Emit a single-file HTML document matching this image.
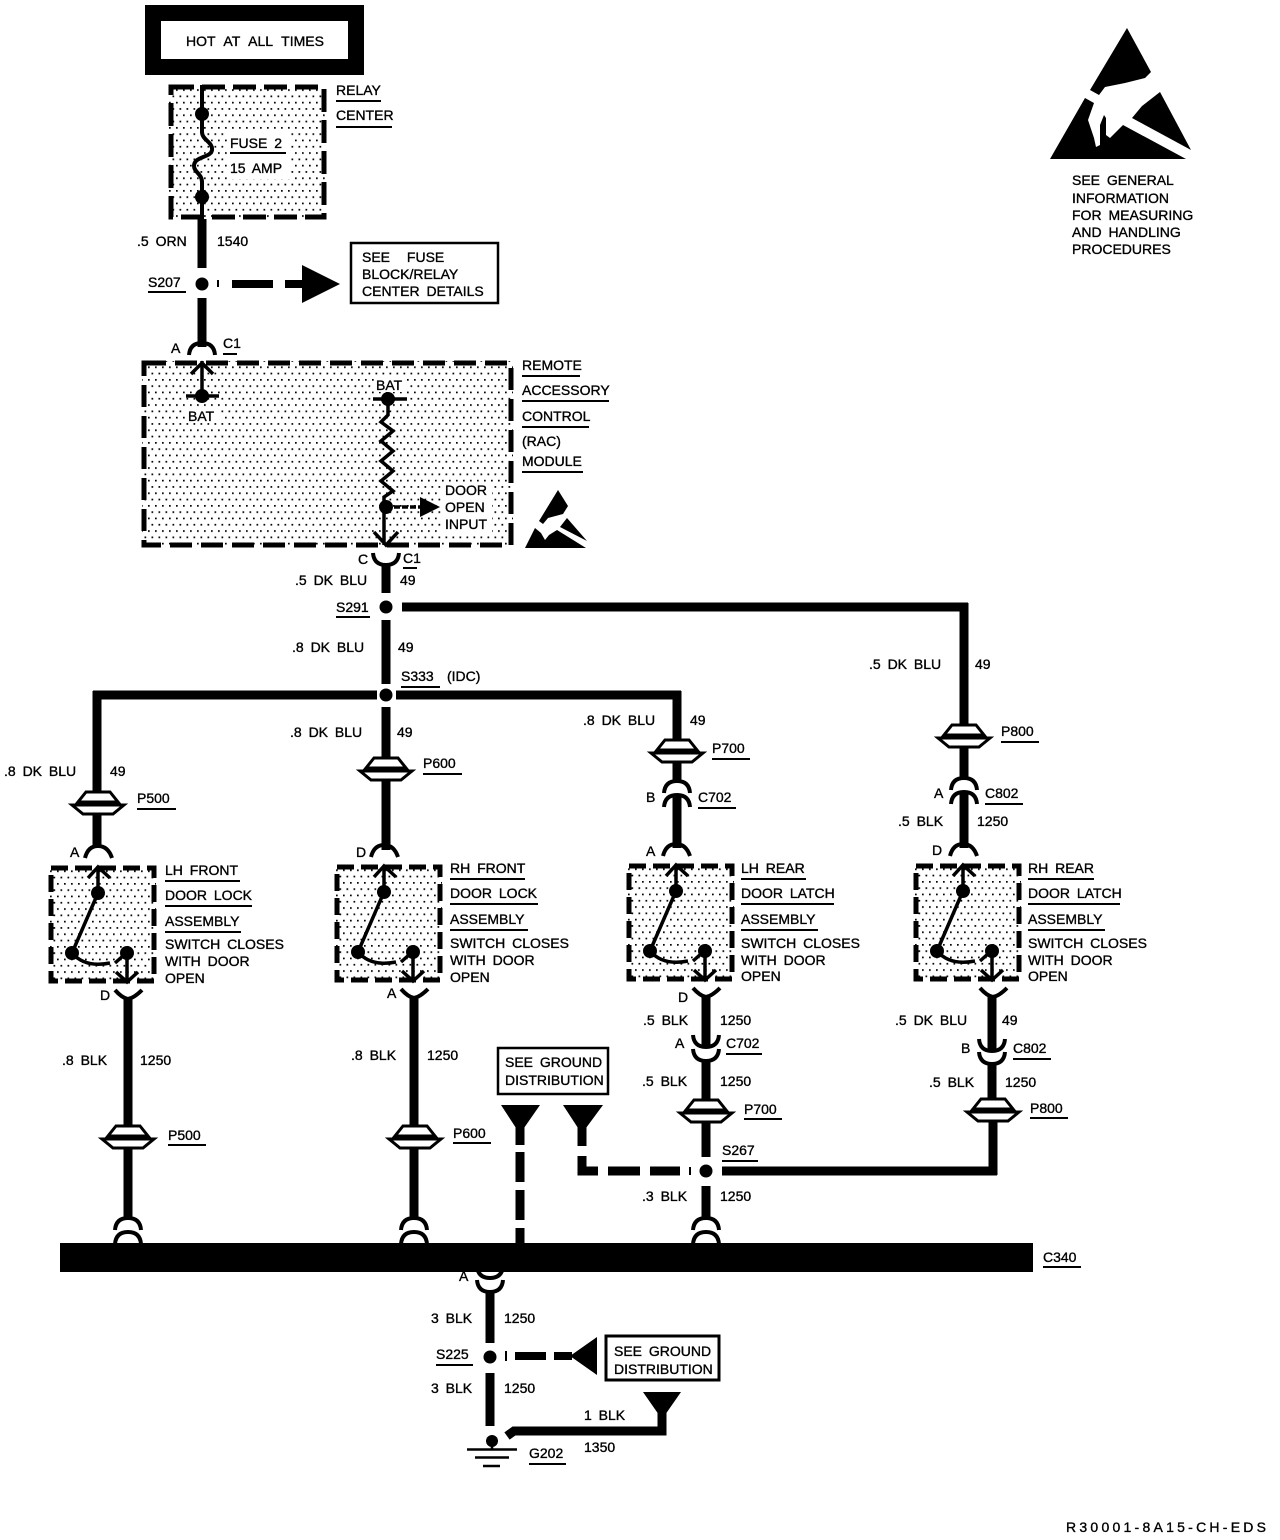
<!DOCTYPE html>
<html><head><meta charset="utf-8"><style>
html,body{margin:0;padding:0;background:#fff}
svg{display:block}
text{font-family:"Liberation Sans",sans-serif;font-size:14px;fill:#000;stroke:#000;stroke-width:.35px;letter-spacing:0;word-spacing:3px}
</style></head><body>
<svg width="1280" height="1540" viewBox="0 0 1280 1540" xmlns="http://www.w3.org/2000/svg">
<defs>
<pattern id="d" width="7" height="12.6" patternUnits="userSpaceOnUse"><rect x="1" y="1" width="1.7" height="1.7"/><rect x="4.5" y="7.3" width="1.7" height="1.7"/></pattern>
<g id="pc"><path d="M-12-12H12L20-2H-20Z" fill="#fff" stroke="#000" stroke-width="3"/><path d="M-26 1H26L15 10H-15Z" fill="#fff" stroke="#000" stroke-width="3"/><path d="M-20-1H20" stroke="#000" stroke-width="2"/></g>
<g id="as">
<rect x="49" y="866" width="107" height="117" fill="url(#d)"/>
<rect x="51" y="868" width="103" height="113" fill="none" stroke="#000" stroke-width="5" stroke-dasharray="17 7"/>
<g fill="none" stroke="#000" stroke-width="3.5">
<path d="M98 866V893M88 878L98 867L110 878"/>
<path d="M98 893L72 953M72 953Q85 968 110 963M115 963L124 955"/>
<path d="M127 953V982M116 972L127 982L138 972"/>
<path d="M85 858Q88 846 98 846Q108 846 112 858" stroke-width="4"/>
<path d="M115 990Q122 998 128 999Q134 998 142 990" stroke-width="4"/>
</g>
<circle cx="98" cy="893" r="7"/><circle cx="72" cy="953" r="7"/><circle cx="127" cy="953" r="7"/>
</g>
<g id="dn"><path d="M-13 9Q-12-3 0-3Q12-3 13 9" fill="none" stroke="#000" stroke-width="4"/></g>
<g id="up"><path d="M-13-9Q-12 3 0 3Q12 3 13-9" fill="none" stroke="#000" stroke-width="4"/></g>
</defs>

<!-- HOT box -->
<rect x="153" y="13" width="203" height="54" fill="#fff" stroke="#000" stroke-width="16"/>

<!-- Relay center -->
<rect x="169" y="85" width="157" height="134" fill="url(#d)"/>
<rect x="228" y="133" width="62" height="46" fill="#fff"/>
<rect x="171" y="87" width="153" height="130" fill="none" stroke="#000" stroke-width="5" stroke-dasharray="23 8"/>
<path d="M202 85V132C202 140 213 142 212 150C211 158 194 156 194 166C194 172 202 174 202 182V219" fill="none" stroke="#000" stroke-width="4"/>
<circle cx="202" cy="114" r="7"/><circle cx="202" cy="197" r="7"/>

<!-- RAC module -->
<rect x="142" y="361" width="371" height="186" fill="url(#d)"/>
<rect x="186" y="409" width="34" height="14" fill="#fff"/><rect x="374" y="378" width="32" height="14" fill="#fff"/><rect x="442" y="483" width="50" height="50" fill="#fff"/>
<rect x="144" y="363" width="367" height="182" fill="none" stroke="#000" stroke-width="5" stroke-dasharray="22 9"/>
<g fill="none" stroke="#000" stroke-width="3.5">
<path d="M202 361V397M191 374L202 363L213 374M186 396H219"/>
<path d="M373 399H407M388 399V415L381 422L393 431L381 441L393 451L381 461L393 471L381 481L393 491L384 497V545M374 532L386 545L398 532"/>
<path d="M386 507H420" stroke-dasharray="6 2"/>
</g>
<path d="M420 497L440 507L420 517Z"/>
<circle cx="202" cy="396" r="7"/><circle cx="388" cy="399" r="7"/><circle cx="386" cy="507" r="7"/>

<!-- Small ESD -->
<path d="M558 490L568 506L563 514L548 518L543 524L539 521ZM535 528L541 533L545 540L549 535L557 530L586 548H525ZM567 518L587 541L560 527Z"/>

<!-- Assemblies -->
<use href="#as"/>
<use href="#as" x="286" y="-1"/>
<use href="#as" x="578" y="-2"/>
<use href="#as" x="865" y="-2"/>

<!-- Thick wires -->
<g fill="none" stroke="#000" stroke-width="9">
<path d="M202 219V268M202 298V347"/>
<path d="M386 565V593M386 620V684M386 707V850"/>
<path d="M402 607H968M964 603V779M964 793V848"/>
<path d="M377 695H93M97 691V848"/>
<path d="M396 695H681M677 691V782M677 796V848"/>
<path d="M128 998V1220M414 996V1220"/>
<path d="M706 996V1047M706 1061V1157M706 1186V1220"/>
<path d="M992 996V1051M992 1064V1111M993 1111V1175M722 1171H997"/>
<path d="M490 1292V1343M490 1373V1426"/>
<path d="M662 1412V1431H514L507 1436" stroke-width="9"/>
<!-- dashed -->
<path d="M232 284H273M285 284H303" stroke-width="8"/>
<path d="M520 1126V1145M520 1152V1182M520 1190V1220M520 1228V1243"/>
<path d="M582 1126V1146M582 1156V1171H598M608 1171H640M650 1171H680"/>
<path d="M515 1356H546M554 1356H572" stroke-width="8"/>
</g>
<path d="M217 280h2v7h-2zM689 1167h2v8h-2zM505 1351h2v10h-2z"/>

<!-- splices -->
<circle cx="202" cy="284" r="6.5"/><circle cx="386" cy="607" r="6.5"/><circle cx="386" cy="695" r="6.5"/><circle cx="706" cy="1171" r="6.5"/><circle cx="490" cy="1357" r="6.5"/>

<!-- Arrows, funnels -->
<path d="M302 265L340 284L302 303Z"/>
<path d="M501 1105H540L524 1128H516ZM563 1105H603L586 1128H578ZM643 1392H681L665 1415H659ZM570 1356L597 1337V1375Z"/>

<!-- Connectors -->
<use href="#dn" x="202" y="346"/>
<use href="#up" x="386" y="562"/>
<use href="#dn" x="677" y="784"/><use href="#dn" x="677" y="798"/>
<use href="#dn" x="964" y="781"/><use href="#dn" x="964" y="795"/>
<use href="#up" x="706" y="1044"/><use href="#up" x="706" y="1058"/>
<use href="#up" x="992" y="1048"/><use href="#up" x="992" y="1061"/>
<use href="#dn" x="128" y="1221"/><use href="#dn" x="128" y="1235"/>
<use href="#dn" x="414" y="1221"/><use href="#dn" x="414" y="1235"/>
<use href="#dn" x="706" y="1221"/><use href="#dn" x="706" y="1235"/>
<use href="#up" x="490" y="1275"/><use href="#up" x="490" y="1289"/>

<use href="#pc" x="98" y="804"/>
<use href="#pc" x="386" y="770"/>
<use href="#pc" x="677" y="752"/>
<use href="#pc" x="964" y="737"/>
<use href="#pc" x="128" y="1138"/>
<use href="#pc" x="415" y="1138"/>
<use href="#pc" x="706" y="1112"/>
<use href="#pc" x="993" y="1111"/>

<!-- Bus -->
<rect x="60" y="1243" width="973" height="29"/>

<!-- Ground -->
<circle cx="492" cy="1441" r="6"/>
<path d="M492 1441V1449M467 1449.500H517M475 1457.500H509M483 1466H500" stroke="#000" stroke-width="2.500" fill="none"/>

<!-- Boxes -->
<g fill="#fff" stroke="#000">
<rect x="351" y="243" width="147" height="60" stroke-width="2.500"/>
<rect x="498" y="1048" width="110" height="46" stroke-width="2.500"/>
<rect x="606" y="1336" width="113" height="44" stroke-width="3"/>
</g>

<!-- Large ESD -->
<path d="M1127 28L1151 72L1145 78L1125 83L1105 87L1099 95L1090 90Z"/>
<path d="M1085 98L1094 103L1088 120L1094 138L1096 147L1100 145L1100 125L1104 115L1106 118L1106 135L1110 138L1123 125L1186 159H1050Z"/>
<path d="M1160 92L1191 150L1132 118L1142 106Z"/>

<!-- Underlines -->
<path fill="none" stroke="#000" stroke-width="2" d="M336 101H381M336 127H392M230 153H286M148 292H186M223 354H237M522 376H580M522 401H609M522 427H589M522 472H583M403 568H417M336 617H370M401 687H440
M137 809H176M423 774H462M712 759H750M1001 742H1039M698 808H736M985 804H1023
M165 881H240M165 906H252M165 932H241
M450 879H525M450 904H538M450 930H528
M741 879H806M741 904H834M741 930H818
M1028 879H1094M1028 904H1120M1028 930H1105
M168 1145H206M453 1143H491M744 1119H782M1030 1118H1068
M726 1054H762M1013 1059H1051M722 1161H758M1043 1267H1081M436 1365H473M529 1464H566"/>

<!-- Text -->
<text x="186" y="46" style="word-spacing:5px">HOT AT ALL TIMES</text>
<text x="336" y="95">RELAY</text><text x="336" y="120">CENTER</text>
<text x="230" y="148">FUSE 2</text><text x="230" y="173">15 AMP</text>
<text x="137" y="246">.5 ORN</text><text x="217" y="246">1540</text>
<text x="148" y="287">S207</text>
<text x="362" y="262" style="word-spacing:13px">SEE FUSE</text><text x="362" y="279">BLOCK/RELAY</text><text x="362" y="296">CENTER DETAILS</text>
<text x="171" y="353">A</text><text x="223" y="348">C1</text>
<text x="188" y="421">BAT</text><text x="376" y="390">BAT</text>
<text x="445" y="495">DOOR</text><text x="445" y="512">OPEN</text><text x="445" y="529">INPUT</text>
<text x="522" y="370">REMOTE</text><text x="522" y="395">ACCESSORY</text><text x="522" y="421">CONTROL</text><text x="522" y="446">(RAC)</text><text x="522" y="466">MODULE</text>
<text x="358" y="564">C</text><text x="403" y="563">C1</text>
<text x="295" y="585">.5 DK BLU</text><text x="400" y="585">49</text>
<text x="336" y="612">S291</text>
<text x="292" y="652">.8 DK BLU</text><text x="398" y="652">49</text>
<text x="401" y="681">S333</text><text x="447" y="681">(IDC)</text>
<text x="869" y="669">.5 DK BLU</text><text x="975" y="669">49</text>
<text x="4" y="776">.8 DK BLU</text><text x="110" y="776">49</text>
<text x="290" y="737">.8 DK BLU</text><text x="397" y="737">49</text>
<text x="583" y="725">.8 DK BLU</text><text x="690" y="725">49</text>
<text x="137" y="803">P500</text><text x="423" y="768">P600</text><text x="712" y="753">P700</text><text x="1001" y="736">P800</text>
<text x="646" y="802">B</text><text x="698" y="802">C702</text>
<text x="934" y="798">A</text><text x="985" y="798">C802</text>
<text x="898" y="826">.5 BLK</text><text x="977" y="826">1250</text>
<text x="70" y="857">A</text><text x="356" y="857">D</text><text x="646" y="856">A</text><text x="932" y="855">D</text>
<text x="165" y="875">LH FRONT</text><text x="165" y="900">DOOR LOCK</text><text x="165" y="926">ASSEMBLY</text><text x="165" y="949">SWITCH CLOSES</text><text x="165" y="966">WITH DOOR</text><text x="165" y="983">OPEN</text>
<text x="450" y="873">RH FRONT</text><text x="450" y="898">DOOR LOCK</text><text x="450" y="924">ASSEMBLY</text><text x="450" y="948">SWITCH CLOSES</text><text x="450" y="965">WITH DOOR</text><text x="450" y="982">OPEN</text>
<text x="741" y="873">LH REAR</text><text x="741" y="898">DOOR LATCH</text><text x="741" y="924">ASSEMBLY</text><text x="741" y="948">SWITCH CLOSES</text><text x="741" y="965">WITH DOOR</text><text x="741" y="981">OPEN</text>
<text x="1028" y="873">RH REAR</text><text x="1028" y="898">DOOR LATCH</text><text x="1028" y="924">ASSEMBLY</text><text x="1028" y="948">SWITCH CLOSES</text><text x="1028" y="965">WITH DOOR</text><text x="1028" y="981">OPEN</text>
<text x="100" y="1000">D</text><text x="387" y="998">A</text><text x="678" y="1002">D</text>
<text x="643" y="1025">.5 BLK</text><text x="720" y="1025">1250</text>
<text x="895" y="1025">.5 DK BLU</text><text x="1002" y="1025">49</text>
<text x="675" y="1048">A</text><text x="726" y="1048">C702</text>
<text x="961" y="1053">B</text><text x="1013" y="1053">C802</text>
<text x="62" y="1065">.8 BLK</text><text x="140" y="1065">1250</text>
<text x="351" y="1060">.8 BLK</text><text x="427" y="1060">1250</text>
<text x="505" y="1067">SEE GROUND</text><text x="505" y="1085">DISTRIBUTION</text>
<text x="642" y="1086">.5 BLK</text><text x="720" y="1086">1250</text>
<text x="929" y="1087">.5 BLK</text><text x="1005" y="1087">1250</text>
<text x="168" y="1140">P500</text><text x="453" y="1138">P600</text><text x="744" y="1114">P700</text><text x="1030" y="1113">P800</text>
<text x="722" y="1155">S267</text>
<text x="642" y="1201">.3 BLK</text><text x="720" y="1201">1250</text>
<text x="1043" y="1262">C340</text>
<text x="459" y="1281">A</text>
<text x="431" y="1323">3 BLK</text><text x="504" y="1323">1250</text>
<text x="436" y="1359">S225</text>
<text x="614" y="1356">SEE GROUND</text><text x="614" y="1374">DISTRIBUTION</text>
<text x="431" y="1393">3 BLK</text><text x="504" y="1393">1250</text>
<text x="584" y="1420">1 BLK</text><text x="584" y="1452">1350</text>
<text x="529" y="1458">G202</text>
<text x="1072" y="185">SEE GENERAL</text><text x="1072" y="203">INFORMATION</text><text x="1072" y="220">FOR MEASURING</text><text x="1072" y="237">AND HANDLING</text><text x="1072" y="254">PROCEDURES</text>
<text x="1066" y="1532" textLength="200" lengthAdjust="spacing">R30001-8A15-CH-EDS</text>
</svg>
</body></html>
